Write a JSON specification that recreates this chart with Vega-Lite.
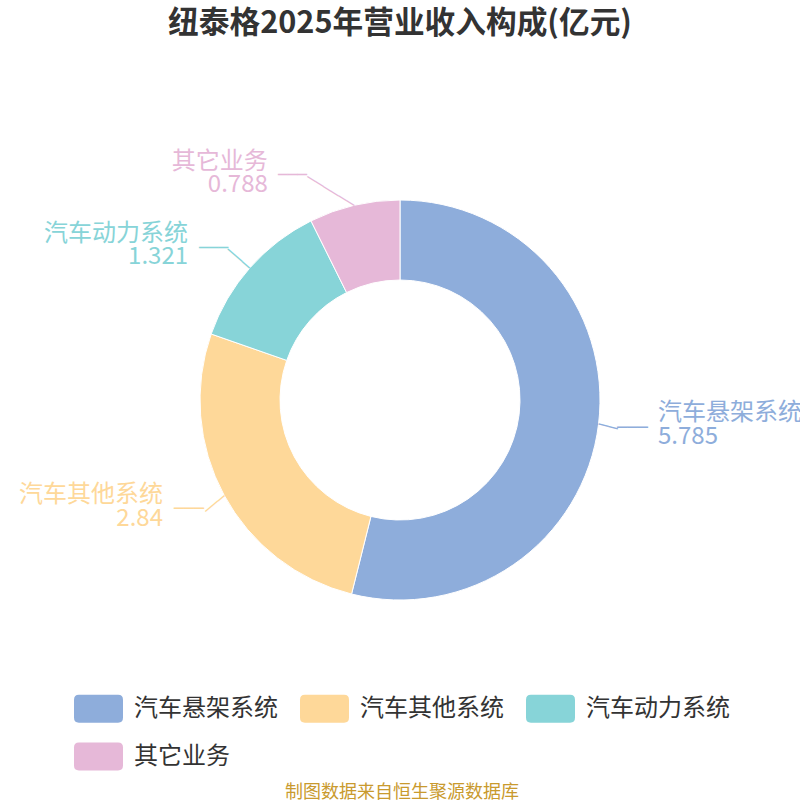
{
  "$schema": "https://vega.github.io/schema/vega-lite/v6.json",
  "description": "纽泰格2025年营业收入构成 donut with outside labels",
  "width": 800,
  "height": 560,
  "autosize": "none",
  "padding": {"top": 120, "left": 0, "right": 0, "bottom": 120},
  "background": "#ffffff",
  "title": {
    "text": "纽泰格2025年营业收入构成(亿元)",
    "font": "Noto Sans CJK SC",
    "fontSize": 30.7,
    "fontWeight": "bold",
    "color": "#333333",
    "anchor": "middle",
    "offset": 80
  },
  "data": {
    "values": [
      {"item": "汽车悬架系统", "value": 5.785},
      {"item": "汽车其他系统", "value": 2.84},
      {"item": "汽车动力系统", "value": 1.321},
      {"item": "其它业务", "value": 0.788}
    ]
  },
  "encoding": {
    "theta": {"field": "value", "type": "quantitative", "stack": true},
    "order": {"field": "value", "type": "quantitative", "sort": "descending"},
    "color": {
      "field": "item",
      "type": "nominal",
      "scale": {
        "domain": ["汽车悬架系统", "汽车其他系统", "汽车动力系统", "其它业务"],
        "range": ["#8eaddb", "#fed899", "#87d4d8", "#e6b8d8"]
      },
      "legend": {
        "title": "制图数据来自恒生聚源数据库",
        "orient": "none",
        "legendX": 74,
        "legendY": 564,
        "direction": "horizontal",
        "columns": 3
      }
    }
  },
  "layer": [
    {"mark": {"type": "arc", "outerRadius": 200, "innerRadius": 120, "stroke": "#ffffff", "strokeWidth": 1}},

    {"mark": {"type": "text", "radius": 200, "font": "DejaVu Sans", "fontSize": 16.3, "align": "left", "baseline": "middle", "angle": 14.7},
     "encoding": {"text": {"condition": {"test": "datum.item === '汽车悬架系统'", "value": "──"}, "value": ""}}},
    {"mark": {"type": "text", "radius": 200, "font": "DejaVu Sans", "fontSize": 17, "align": "left", "baseline": "middle", "dx": 18.5, "dy": 3.5},
     "encoding": {"text": {"condition": {"test": "datum.item === '汽车悬架系统'", "value": "───"}, "value": ""}}},
    {"mark": {"type": "text", "radius": 200, "font": "DejaVu Sans", "fontSize": 13.7, "align": "left", "baseline": "middle", "angle": 139.9},
     "encoding": {"text": {"condition": {"test": "datum.item === '汽车其他系统'", "value": "───"}, "value": ""}}},
    {"mark": {"type": "text", "radius": 200, "font": "DejaVu Sans", "fontSize": 16.6, "align": "right", "baseline": "middle", "dx": -20, "dy": 14},
     "encoding": {"text": {"condition": {"test": "datum.item === '汽车其他系统'", "value": "───"}, "value": ""}}},
    {"mark": {"type": "text", "radius": 200, "font": "DejaVu Sans", "fontSize": 16, "align": "left", "baseline": "middle", "angle": 220.8},
     "encoding": {"text": {"condition": {"test": "datum.item === '汽车动力系统'", "value": "───"}, "value": ""}}},
    {"mark": {"type": "text", "radius": 200, "font": "DejaVu Sans", "fontSize": 16, "align": "right", "baseline": "middle", "dx": -22, "dy": -19.7},
     "encoding": {"text": {"condition": {"test": "datum.item === '汽车动力系统'", "value": "───"}, "value": ""}}},
    {"mark": {"type": "text", "radius": 200, "font": "DejaVu Sans", "fontSize": 15.2, "align": "left", "baseline": "middle", "angle": 211.7},
     "encoding": {"text": {"condition": {"test": "datum.item === '其它业务'", "value": "──────"}, "value": ""}}},
    {"mark": {"type": "text", "radius": 200, "font": "DejaVu Sans", "fontSize": 16, "align": "right", "baseline": "middle", "dx": -47.3, "dy": -30.3},
     "encoding": {"text": {"condition": {"test": "datum.item === '其它业务'", "value": "───"}, "value": ""}}},

    {"mark": {"type": "text", "radius": 200, "font": "Noto Sans CJK SC", "fontSize": 24, "align": "left", "baseline": "middle", "dx": 59.5, "dy": -11},
     "encoding": {"text": {"condition": {"test": "datum.item === '汽车悬架系统'", "field": "item"}, "value": ""}}},
    {"mark": {"type": "text", "radius": 200, "font": "Noto Sans CJK SC", "fontSize": 24, "align": "left", "baseline": "middle", "dx": 59.5, "dy": 13},
     "encoding": {"text": {"condition": {"test": "datum.item === '汽车悬架系统'", "field": "value", "type": "nominal"}, "value": ""}}},
    {"mark": {"type": "text", "radius": 200, "font": "Noto Sans CJK SC", "fontSize": 24, "align": "right", "baseline": "middle", "dx": -61, "dy": 0},
     "encoding": {"text": {"condition": {"test": "datum.item === '汽车其他系统'", "field": "item"}, "value": ""}}},
    {"mark": {"type": "text", "radius": 200, "font": "Noto Sans CJK SC", "fontSize": 24, "align": "right", "baseline": "middle", "dx": -61, "dy": 24},
     "encoding": {"text": {"condition": {"test": "datum.item === '汽车其他系统'", "field": "value", "type": "nominal"}, "value": ""}}},
    {"mark": {"type": "text", "radius": 200, "font": "Noto Sans CJK SC", "fontSize": 24, "align": "right", "baseline": "middle", "dx": -62, "dy": -33.7},
     "encoding": {"text": {"condition": {"test": "datum.item === '汽车动力系统'", "field": "item"}, "value": ""}}},
    {"mark": {"type": "text", "radius": 200, "font": "Noto Sans CJK SC", "fontSize": 24, "align": "right", "baseline": "middle", "dx": -62, "dy": -10.7},
     "encoding": {"text": {"condition": {"test": "datum.item === '汽车动力系统'", "field": "value", "type": "nominal"}, "value": ""}}},
    {"mark": {"type": "text", "radius": 200, "font": "Noto Sans CJK SC", "fontSize": 24, "align": "right", "baseline": "middle", "dx": -86.5, "dy": -43.3},
     "encoding": {"text": {"condition": {"test": "datum.item === '其它业务'", "field": "item"}, "value": ""}}},
    {"mark": {"type": "text", "radius": 200, "font": "Noto Sans CJK SC", "fontSize": 24, "align": "right", "baseline": "middle", "dx": -86.5, "dy": -20.3},
     "encoding": {"text": {"condition": {"test": "datum.item === '其它业务'", "field": "value", "type": "nominal"}, "value": ""}}}
  ],
  "config": {
    "view": {"stroke": null},
    "legend": {
      "titleOrient": "bottom",
      "titleAnchor": "middle",
      "titleFont": "Noto Sans CJK SC",
      "titleFontSize": 18,
      "titleFontWeight": "normal",
      "titleColor": "#c99a2e",
      "titleLimit": 500,
      "titlePadding": 14,
      "labelFont": "Noto Sans CJK SC",
      "labelFontSize": 24,
      "labelColor": "#333333",
      "labelLimit": 300,
      "labelOffset": 11,
      "columnPadding": 22,
      "rowPadding": 9,
      "symbolType": "M-0.8,-0.571 L0.8,-0.571 Q1,-0.571 1,-0.371 L1,0.371 Q1,0.571 0.8,0.571 L-0.8,0.571 Q-1,0.571 -1,0.371 L-1,-0.371 Q-1,-0.571 -0.8,-0.571 Z",
      "symbolSize": 2401,
      "symbolStrokeWidth": 0,
      "symbolOpacity": 1
    }
  }
}
